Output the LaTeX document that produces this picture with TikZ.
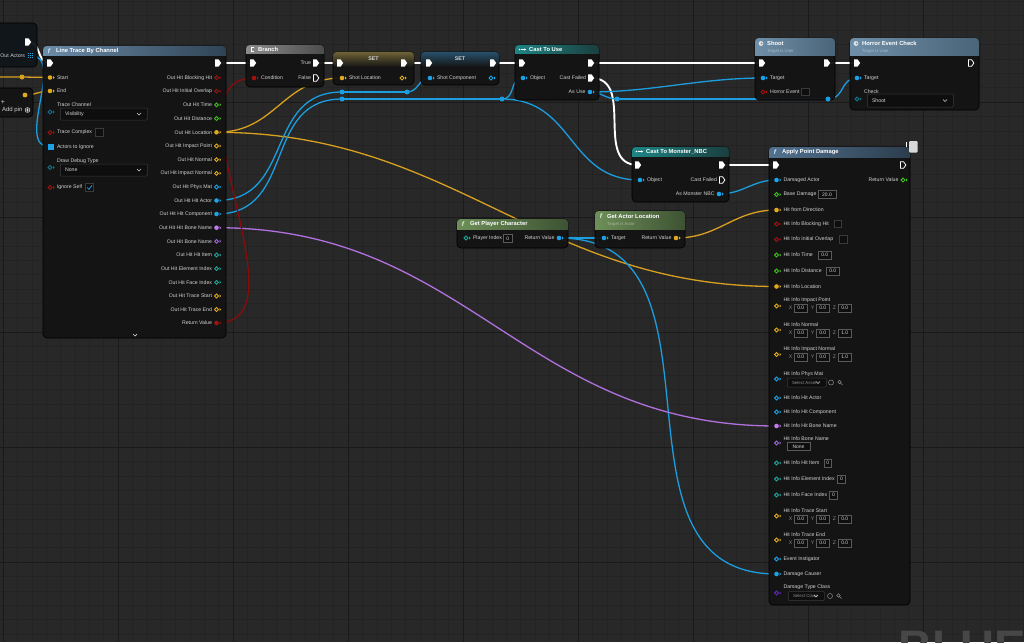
\documentclass[tikz,border=0pt]{standalone}
\usepackage{fontspec}
\setmainfont{Liberation Sans}
\usetikzlibrary{arrows.meta}
\pgfdeclarelayer{bgl}
\pgfdeclarelayer{wl}
\pgfsetlayers{bgl,wl,main}
\definecolor{bgc}{HTML}{282828}
\definecolor{gmin}{HTML}{232323}
\definecolor{gmaj}{HTML}{1A1A1A}
\definecolor{nbody}{HTML}{141414}
\definecolor{lnc}{HTML}{11161A}
\definecolor{labc}{HTML}{D2D2D2}
\definecolor{xyzc}{HTML}{8A8A8A}
\definecolor{subc}{HTML}{A9BCCB}
\definecolor{subg}{HTML}{A8B89C}
\definecolor{vbd}{HTML}{5A5A5A}
\definecolor{vbf}{HTML}{0E0E0E}
\definecolor{ddd}{HTML}{3A3A3A}
\definecolor{wmc}{HTML}{474747}
\definecolor{cyel}{HTML}{E0A91E}
\definecolor{cblu}{HTML}{1CA3E6}
\definecolor{cpur}{HTML}{C27AF0}
\definecolor{cpur2}{HTML}{9C6AD8}
\definecolor{cdpur}{HTML}{5E2AB8}
\definecolor{cred}{HTML}{A01212}
\definecolor{cgrn}{HTML}{3EBE1C}
\definecolor{ctea}{HTML}{1BA89B}
\definecolor{cenum}{HTML}{137287}
\definecolor{wyel}{HTML}{D8A020}
\definecolor{wblu}{HTML}{1A9EE0}
\definecolor{wpur}{HTML}{B070DD}
\definecolor{wred}{HTML}{8A0B0B}
\definecolor{hlt1}{HTML}{6C8CA8}
\definecolor{hlt2}{HTML}{2F4355}
\definecolor{hbr1}{HTML}{8C8C8C}
\definecolor{hbr2}{HTML}{4C4C4C}
\definecolor{hca1}{HTML}{1E8585}
\definecolor{hca2}{HTML}{1B3E3E}
\definecolor{hsh1}{HTML}{6F8FA8}
\definecolor{hsh2}{HTML}{4A6478}
\definecolor{hap1}{HTML}{52728F}
\definecolor{hap2}{HTML}{2C3D4D}
\definecolor{hgr1}{HTML}{6E8F58}
\definecolor{hgr2}{HTML}{3D5233}
\definecolor{set1}{HTML}{6E6236}
\definecolor{set2}{HTML}{28506A}
\tikzset{
 pics/dpf/.style={code={\fill[#1] (0,0) circle (2.3); \fill[#1] (3,-1.6) -- (4.7,0) -- (3,1.6) -- cycle;}},
 pics/dph/.style={code={\draw[#1,line width=0.9pt] (0,0) circle (1.9); \fill[#1] (3,-1.6) -- (4.7,0) -- (3,1.6) -- cycle;}},
 pics/exf/.style={code={\fill[#1] (-2.8,-3.6) -- (0.6,-3.6) -- (3.2,0) -- (0.6,3.6) -- (-2.8,3.6) -- cycle;}},
 pics/exh/.style={code={\draw[#1,line width=0.8pt,line join=round] (-2.6,-3.3) -- (0.5,-3.3) -- (2.9,0) -- (0.5,3.3) -- (-2.6,3.3) -- cycle;}},
}
\newcommand\pinL[6]{\coordinate (#1) at (#2,#3); \pic at (#1) {#4=#5}; \node[lbl,anchor=west] (#1-l) at ({#2+7},{#3}) {#6};}
\newcommand\pinR[6]{\coordinate (#1) at (#2,#3); \pic at (#1) {#4=#5}; \node[lbl,anchor=east] (#1-l) at ({#2-4.5},{#3}) {#6};}
\newcommand\exL[4]{\coordinate (#1) at (#2,#3); \pic at (#1) {#4=white};}
\newcommand\valbox[5]{\node[valb, minimum width=#4pt] (#1) at (#2,#3) {#5};}
\newcommand\chkbox[3]{\node[chkb] (#1) at (#2,#3) {};}
\newcommand\ddown[6]{\node[ddb, minimum width=#4pt, minimum height=#5pt] (#1) at (#2,#3) {};
 \node[lbl,anchor=west] (#1-t) at ({#2+5},{#3}) {#6};
 \draw[labc, line width=0.6pt] ({#2+#4-10},{#3-1}) -- ({#2+#4-8},{#3+1}) -- ({#2+#4-6},{#3-1});}
\newcommand\xyz[3]{\node[lbl,text=xyzc] (#1xl) at (790.5,#2) {X}; \valbox{#1x}{794}{#2}{13.5}{0.0}
 \node[lbl,text=xyzc] (#1yl) at (812.5,#2) {Y}; \valbox{#1y}{816}{#2}{13.5}{0.0}
 \node[lbl,text=xyzc] (#1zl) at (834.5,#2) {Z}; \valbox{#1z}{838}{#2}{13.5}{#3}}
\newcommand\bpnode[8]{\node[blk, minimum width=#4pt, minimum height=#5pt, anchor=north west] (#1) at (#2,#3) {};
 \shade[left color=#7, right color=#8, rounded corners=3.5pt] (#2,#3) rectangle ({#2+#4},{#3+#6});
 \shade[left color=#7, right color=#8] (#2,{#3+#6-3.5}) rectangle ({#2+#4},{#3+#6});}
\newcommand\wire[4]{\draw[#1] (#2) .. controls +(#4,0) and +(-#4,0) .. (#3);}
\begin{document}
\begin{tikzpicture}[x=1pt,y=-1pt,
 blk/.style={draw=black, line width=0.7pt, fill=nbody, fill opacity=0.96, rounded corners=4pt, inner sep=0pt, outer sep=0pt},
 lbl/.style={font=\fontsize{5.2}{6}\selectfont, text=labc, inner sep=0pt, outer sep=0pt},
 ttl/.style={font=\bfseries\fontsize{5.8}{7}\selectfont, text=white, inner sep=0pt, anchor=west},
 sub/.style={font=\fontsize{4.3}{5}\selectfont, text=#1, inner sep=0pt, anchor=west},
 fic/.style={font=\bfseries\itshape\fontsize{6.5}{7}\selectfont, text=white!85!cblu, inner sep=0pt},
 exw/.style={white, line width=1.9pt},
 dw/.style={#1, line width=1.3pt},
 valb/.style={draw=vbd, fill=vbf, line width=0.6pt, text=labc, font=\fontsize{5}{6}\selectfont, inner sep=0pt, outer sep=0pt, minimum height=8pt, anchor=west},
 chkb/.style={draw=ddd, fill=vbf, line width=0.6pt, minimum size=7.5pt, inner sep=0pt},
 ddb/.style={draw=ddd, fill=vbf, line width=0.5pt, inner sep=0pt, anchor=west, rounded corners=1pt},
 knot/.style={circle, fill=#1, minimum size=5pt, inner sep=0pt}]
\useasboundingbox (0,0) rectangle (1024,642);
\begin{pgfonlayer}{bgl}
\fill[bgc] (0,0) rectangle (1024,642);
\foreach \i in {0,...,71} \draw[gmin, line width=0.5pt] ({3+14.375*\i},0) -- ({3+14.375*\i},642);
\foreach \i in {1,...,45} \draw[gmin, line width=0.5pt] (0,{-13+14.375*\i}) -- (1024,{-13+14.375*\i});
\foreach \i in {0,...,8} \draw[gmaj, line width=1pt] ({3+115*\i},0) -- ({3+115*\i},642);
\foreach \i in {1,...,5} \draw[gmaj, line width=1pt] (0,{-13+115*\i}) -- (1024,{-13+115*\i});
\node[anchor=base west, font=\bfseries\fontsize{47}{47}\selectfont, text=wmc, inner sep=0pt] (wm) at (898,663) {BLUE};
\end{pgfonlayer}

% ---- left partial nodes
\node[blk, fill=lnc, minimum width=50pt, minimum height=44pt, anchor=north west] (ln1) at (-13,23) {};
\exL{ln1-ex}{28}{42}{exf}
\node[lbl,anchor=east] (ln1-l) at (25,55.5) {Out Actors};
\coordinate (ln1-arr) at (30.5,55.5);
\foreach \i in {-1.7,0,1.7} \foreach \j in {-1.7,0,1.7} \fill[cblu] ({30.5+\i-0.6},{55.5+\j-0.6}) rectangle ++(1.2,1.2);
\node[blk, minimum width=46pt, minimum height=29pt, anchor=north west] (ln2) at (-13,88) {};
\coordinate (ln2-o) at (25,95); \fill[cyel] (ln2-o) circle (2.4);
\node[lbl, font=\fontsize{7}{7}\selectfont] (ln2-p) at (3,102) {+};
\node[lbl, font=\fontsize{6}{7}\selectfont, anchor=east] (ln2-l) at (22.5,110) {Add pin};
\draw[labc, line width=0.6pt] (27.5,110) circle (2.4) (26.2,110) -- (28.8,110) (27.5,108.7) -- (27.5,111.3);
\node[knot=wyel] (ky) at (22,77) {};
\coordinate (yin) at (-6,77);

% ---- Line Trace By Channel
\bpnode{lt}{43}{46}{183}{292}{10}{hlt1}{hlt2}
\node[fic] (lt-f) at (49,51) {f};
\node[ttl] (lt-t) at (56,51) {Line Trace By Channel};
\exL{lt-exin}{50}{63}{exf}
\exL{lt-exout}{218}{63}{exf}
\pinL{lt-start}{50}{77.5}{dpf}{cyel}{Start}
\pinL{lt-end}{50}{91}{dpf}{cyel}{End}
\node[lbl,anchor=west] (lt-tcl) at (57,105) {Trace Channel};
\coordinate (lt-tc) at (50,112); \pic at (lt-tc) {dph=cenum};
\ddown{lt-tcd}{60}{114}{87}{12}{Visibility}
\pinL{lt-cplx}{50}{132.5}{dph}{cred}{Trace Complex}
\chkbox{lt-cplxb}{99.5}{132.5}
\coordinate (lt-ign) at (50,147);
\foreach \j in {-2,0,2} \fill[cblu] (47.5,{147+\j-0.55}) rectangle ++(6,1.1);
\node[lbl,anchor=west] (lt-ignl) at (57,147) {Actors to Ignore};
\node[lbl,anchor=west] (lt-dbgl) at (57,161) {Draw Debug Type};
\coordinate (lt-dbg) at (50,167.5); \pic at (lt-dbg) {dph=cenum};
\ddown{lt-dbgd}{60}{170}{87}{12}{None}
\pinL{lt-self}{50}{187.5}{dph}{cred}{Ignore Self}
\chkbox{lt-selfb}{89.5}{187.5}
\draw[cblu, line width=0.8pt] (87.3,187.6) -- (89,189.4) -- (92,185.4);
\pinR{lt-o1}{216.5}{77.7}{dph}{cred}{Out Hit Blocking Hit}
\pinR{lt-o2}{216.5}{91.2}{dph}{cred}{Out Hit Initial Overlap}
\pinR{lt-o3}{216.5}{104.8}{dph}{cgrn}{Out Hit Time}
\pinR{lt-o4}{216.5}{118.5}{dph}{cgrn}{Out Hit Distance}
\pinR{lt-loc}{216.5}{132.3}{dpf}{cyel}{Out Hit Location}
\pinR{lt-o6}{216.5}{146}{dph}{cyel}{Out Hit Impact Point}
\pinR{lt-o7}{216.5}{159.7}{dph}{cyel}{Out Hit Normal}
\pinR{lt-o8}{216.5}{173.3}{dph}{cyel}{Out Hit Impact Normal}
\pinR{lt-o9}{216.5}{187}{dph}{cblu}{Out Hit Phys Mat}
\pinR{lt-actor}{216.5}{200.5}{dpf}{cblu}{Out Hit Hit Actor}
\pinR{lt-comp}{216.5}{214}{dpf}{cblu}{Out Hit Hit Component}
\pinR{lt-hbn}{216.5}{227.7}{dpf}{cpur}{Out Hit Hit Bone Name}
\pinR{lt-o13}{216.5}{241.3}{dph}{cpur2}{Out Hit Bone Name}
\pinR{lt-o14}{216.5}{255}{dph}{ctea}{Out Hit Hit Item}
\pinR{lt-o15}{216.5}{268.7}{dph}{ctea}{Out Hit Element Index}
\pinR{lt-o16}{216.5}{282.3}{dph}{ctea}{Out Hit Face Index}
\pinR{lt-o17}{216.5}{296}{dph}{cyel}{Out Hit Trace Start}
\pinR{lt-o18}{216.5}{309.5}{dph}{cyel}{Out Hit Trace End}
\pinR{lt-ret}{216.5}{323}{dpf}{cred}{Return Value}
\draw[labc, line width=0.7pt] (133,334) -- (135,336) -- (137,334);

% ---- Branch
\bpnode{br}{246}{45}{78}{42}{9}{hbr1}{hbr2}
\draw[white, line width=0.8pt] (254,47.3) -- (251,47.3) -- (251,51.7) -- (254,51.7);
\node[ttl] (br-t) at (258,49.5) {Branch};
\exL{br-in}{253}{63}{exf}
\exL{br-true}{316}{63}{exf}
\node[lbl,anchor=east] (br-truel) at (311,63) {True};
\pinL{br-cond}{254}{78}{dpf}{cred}{Condition}
\exL{br-false}{316}{78}{exh}
\node[lbl,anchor=east] (br-falsel) at (311,78) {False};

% ---- SET Shot Location
\node[blk, minimum width=81pt, minimum height=33pt, anchor=north west] (s1) at (333,52) {};
\shade[top color=set1, bottom color=nbody, rounded corners=3.5pt] (333,52) rectangle (414,67);
\node[ttl, anchor=center, font=\bfseries\fontsize{5.3}{6}\selectfont, text=labc] (s1-t) at (373.5,58.5) {SET};
\exL{s1-in}{340}{63}{exf}
\exL{s1-out}{404}{63}{exf}
\pinL{s1-loc}{342}{78}{dpf}{cyel}{Shot Location}
\coordinate (s1-o) at (402,78); \pic at (s1-o) {dph=cyel};

% ---- SET Shot Component
\node[blk, minimum width=78pt, minimum height=33pt, anchor=north west] (s2) at (421,52) {};
\shade[top color=set2, bottom color=nbody, rounded corners=3.5pt] (421,52) rectangle (499,67);
\node[ttl, anchor=center, font=\bfseries\fontsize{5.3}{6}\selectfont, text=labc] (s2-t) at (460,58.5) {SET};
\exL{s2-in}{429}{63}{exf}
\exL{s2-out}{493}{63}{exf}
\pinL{s2-comp}{430}{78}{dpf}{cblu}{Shot Component}
\coordinate (s2-o) at (491,78); \pic at (s2-o) {dph=cblu};

% ---- Cast To Use
\bpnode{ctu}{515}{45}{84}{55}{9}{hca1}{hca2}
\fill[white] (519.5,49.5) circle (0.9);
\draw[white, line width=0.6pt, -{Stealth[length=2pt,width=2.2pt]}] (520.5,49.5) -- (526,49.5);
\node[ttl] (ctu-t) at (529,49.5) {Cast To Use};
\exL{ctu-in}{522}{63}{exf}
\exL{ctu-out}{591}{63}{exf}
\pinL{ctu-obj}{523}{78}{dpf}{cblu}{Object}
\exL{ctu-fail}{591}{78}{exf}
\node[lbl,anchor=east] (ctu-faill) at (586,78) {Cast Failed};
\pinR{ctu-as}{590}{92}{dpf}{cblu}{As Use}

% ---- Cast To Monster_NBC
\bpnode{ctm}{632}{147}{97}{55}{9}{hca1}{hca2}
\fill[white] (636.5,151.5) circle (0.9);
\draw[white, line width=0.6pt, -{Stealth[length=2pt,width=2.2pt]}] (637.5,151.5) -- (643,151.5);
\node[ttl] (ctm-t) at (646,151.5) {Cast To Monster\_NBC};
\exL{ctm-in}{638}{165}{exf}
\exL{ctm-out}{722}{165}{exf}
\pinL{ctm-obj}{640}{180}{dpf}{cblu}{Object}
\exL{ctm-fail}{722}{180}{exh}
\node[lbl,anchor=east] (ctm-faill) at (717,180) {Cast Failed};
\pinR{ctm-as}{719}{194}{dpf}{cblu}{As Monster NBC}

% ---- Shoot
\bpnode{sh}{755}{38}{80}{62}{18}{hsh1}{hsh2}
\fill[white!90!black] (761,43.5) circle (2.4); \fill[hsh1] (761.6,43.5) circle (1);
\node[ttl] (sh-t) at (767,43.5) {Shoot};
\node[sub=subc] (sh-s) at (767,51.5) {Target is User};
\exL{sh-in}{762}{63}{exf}
\exL{sh-out}{827}{63}{exf}
\pinL{sh-tgt}{763}{78}{dpf}{cblu}{Target}
\pinL{sh-he}{763}{92}{dph}{cred}{Horror Event}
\chkbox{sh-heb}{805.5}{92}

% ---- Horror Event Check
\bpnode{hec}{850}{38}{129}{72}{18}{hsh1}{hsh2}
\fill[white!90!black] (856,43.5) circle (2.4); \fill[hsh1] (856.6,43.5) circle (1);
\node[ttl] (hec-t) at (862,43.5) {Horror Event Check};
\node[sub=subc] (hec-s) at (862,51.5) {Target is User};
\exL{hec-in}{857}{63}{exf}
\exL{hec-out}{971}{63}{exh}
\pinL{hec-tgt}{857}{78}{dpf}{cblu}{Target}
\node[lbl,anchor=west] (hec-chkl) at (864,92) {Check};
\coordinate (hec-chk) at (857,99); \pic at (hec-chk) {dph=cenum};
\ddown{hec-dd}{867}{100.5}{86}{13}{Shoot}

% ---- Get Player Character
\bpnode{gpc}{457}{219}{111}{29}{10}{hgr1}{hgr2}
\node[fic, text=white!85!hgr1] (gpc-f) at (463,224) {f};
\node[ttl] (gpc-t) at (470,224) {Get Player Character};
\pinL{gpc-idx}{466}{238}{dph}{ctea}{Player Index}
\valbox{gpc-idxv}{503.5}{238.5}{8.5}{0}
\pinR{gpc-ret}{559}{238}{dpf}{cblu}{Return Value}

% ---- Get Actor Location
\bpnode{gal}{595}{211}{90}{37}{18}{hgr1}{hgr2}
\node[fic, text=white!85!hgr1] (gal-f) at (601,216.5) {f};
\node[ttl] (gal-t) at (607,216.5) {Get Actor Location};
\node[sub=subg] (gal-s) at (607,224.5) {Target is Actor};
\pinL{gal-tgt}{604}{238}{dpf}{cblu}{Target}
\pinR{gal-ret}{676}{238}{dpf}{cyel}{Return Value}

% ---- Apply Point Damage
\bpnode{apd}{769}{147}{141}{458}{10}{hap1}{hap2}
\node[fic] (apd-f) at (775,152) {f};
\node[ttl] (apd-t) at (782,152) {Apply Point Damage};
\fill[white!85!black, rounded corners=1pt] (909,141) rectangle (917.5,152.5);
\draw[white, line width=0.6pt] (906.5,142) -- (906.5,147);
\exL{apd-in}{776}{165}{exf}
\exL{apd-out}{903}{165}{exh}
\pinL{apd-da}{776.5}{180}{dpf}{cblu}{Damaged Actor}
\pinR{apd-rv}{903}{180}{dph}{cgrn}{Return Value}
\pinL{apd-bd}{776.5}{194.5}{dph}{cgrn}{Base Damage}
\valbox{apd-bdv}{818}{194.5}{18}{20.0}
\pinL{apd-dir}{776.5}{210}{dpf}{cyel}{Hit from Direction}
\pinL{apd-bh}{776.5}{224}{dph}{cred}{Hit Info Blocking Hit}
\chkbox{apd-bhb}{838}{224}
\pinL{apd-io}{776.5}{239.5}{dph}{cred}{Hit Info Initial Overlap}
\chkbox{apd-iob}{843.5}{239.5}
\pinL{apd-t}{776.5}{255}{dph}{cgrn}{Hit Info Time}
\valbox{apd-tv}{818}{255}{13.5}{0.0}
\pinL{apd-d}{776.5}{271}{dph}{cgrn}{Hit Info Distance}
\valbox{apd-dv}{826}{271}{13.5}{0.0}
\pinL{apd-loc}{776.5}{286.5}{dpf}{cyel}{Hit Info Location}
\node[lbl,anchor=west] (apd-ipl) at (783.5,300.5) {Hit Info Impact Point};
\coordinate (apd-ip) at (776.5,306); \pic at (apd-ip) {dph=cyel};
\xyz{ip}{308}{0.0}
\node[lbl,anchor=west] (apd-nl) at (783.5,325) {Hit Info Normal};
\coordinate (apd-n) at (776.5,330); \pic at (apd-n) {dph=cyel};
\xyz{nm}{333}{1.0}
\node[lbl,anchor=west] (apd-inl) at (783.5,349.5) {Hit Info Impact Normal};
\coordinate (apd-in2) at (776.5,354.5); \pic at (apd-in2) {dph=cyel};
\xyz{in}{357}{1.0}
\node[lbl,anchor=west] (apd-pml) at (783.5,374) {Hit Info Phys Mat};
\coordinate (apd-pm) at (776.5,379); \pic at (apd-pm) {dph=cblu};
\ddown{apd-pmd}{787}{382.5}{39}{9}{\fontsize{4.4}{5}\selectfont\color{xyzc}Select Asset}
\draw[xyzc, line width=0.5pt] (831,382.5) circle (2.5) (839.5,382) circle (1.8) (840.8,383.3) -- (842.6,385.1);
\pinL{apd-ha}{776.5}{398}{dph}{cblu}{Hit Info Hit Actor}
\pinL{apd-hc}{776.5}{412}{dph}{cblu}{Hit Info Hit Component}
\pinL{apd-hbn}{776.5}{426}{dpf}{cpur}{Hit Info Hit Bone Name}
\node[lbl,anchor=west] (apd-bnl) at (783.5,439) {Hit Info Bone Name};
\coordinate (apd-bn) at (776.5,443); \pic at (apd-bn) {dph=cpur2};
\valbox{apd-bnv}{787}{446.5}{23}{None}
\pinL{apd-hi}{776.5}{463}{dph}{ctea}{Hit Info Hit Item}
\valbox{apd-hiv}{824}{463}{7.5}{0}
\pinL{apd-ei}{776.5}{479}{dph}{ctea}{Hit Info Element Index}
\valbox{apd-eiv}{837.5}{479}{8}{0}
\pinL{apd-fi}{776.5}{495}{dph}{ctea}{Hit Info Face Index}
\valbox{apd-fiv}{829.5}{495}{8}{0}
\node[lbl,anchor=west] (apd-tsl) at (783.5,511) {Hit Info Trace Start};
\coordinate (apd-ts) at (776.5,516); \pic at (apd-ts) {dph=cyel};
\xyz{ts}{519}{0.0}
\node[lbl,anchor=west] (apd-tel) at (783.5,535) {Hit Info Trace End};
\coordinate (apd-te) at (776.5,540); \pic at (apd-te) {dph=cyel};
\xyz{te}{543}{0.0}
\pinL{apd-ev}{776.5}{559}{dph}{cblu}{Event Instigator}
\pinL{apd-dc}{776.5}{574}{dpf}{cblu}{Damage Causer}
\node[lbl,anchor=west] (apd-dtl) at (783.5,587) {Damage Type Class};
\coordinate (apd-dt) at (776.5,593); \pic at (apd-dt) {dph=cdpur};
\ddown{apd-dtd}{788}{596}{36}{9}{\fontsize{4.4}{5}\selectfont\color{xyzc}Select Class}
\draw[xyzc, line width=0.5pt] (830,596) circle (2.5) (838.5,595.5) circle (1.8) (839.8,596.8) -- (841.6,598.6);

% ---- knots
\node[knot=wblu] (k1) at (342,92) {};
\node[knot=wblu] (k2) at (407,92) {};
\node[knot=wblu] (k3) at (342,99) {};
\node[knot=wblu] (k4) at (502,99) {};
\node[knot=wblu] (k5) at (617,99) {};
\node[knot=wblu] (k6) at (828,99) {};

% ---- wires
\begin{pgfonlayer}{wl}
\wire{exw}{ln1-ex}{lt-exin}{14}
\draw[exw] (lt-exout) -- (br-in);
\draw[exw] (br-true) -- (s1-in);
\draw[exw] (s1-out) -- (s2-in);
\draw[exw] (s2-out) -- (ctu-in);
\draw[exw] (ctu-out) -- (sh-in);
\draw[exw] (sh-out) -- (hec-in);
\wire{exw}{ctu-fail}{ctm-in}{45}
\draw[exw] (ctm-out) -- (apd-in);
\draw[dw=wyel] (yin) -- (ky.center) -- (lt-start);
\wire{dw=wyel}{ln2-o}{lt-end}{9}
\wire{dw=wyel}{lt-loc}{s1-loc}{60}
\wire{dw=wyel}{lt-loc}{apd-loc}{238}
\wire{dw=wyel}{gal-ret}{apd-dir}{43}
\wire{dw=wblu}{ln1-arr}{lt-ign}{36}
\wire{dw=wblu}{lt-actor}{k1.center}{78}
\draw[dw=wblu] (k1.center) -- (k2.center);
\wire{dw=wblu}{k2.center}{s2-comp}{12}
\wire{dw=wblu}{lt-comp}{k3.center}{80}
\draw[dw=wblu] (k3.center) -- (k4.center);
\wire{dw=wblu}{k4.center}{ctu-obj}{14}
\wire{dw=wblu}{k4.center}{ctm-obj}{73}
\wire{dw=wblu}{ctu-as}{sh-tgt}{62}
\wire{dw=wblu}{ctu-as}{k5.center}{11}
\draw[dw=wblu] (k5.center) -- (k6.center);
\wire{dw=wblu}{k6.center}{hec-tgt}{17}
\wire{dw=wblu}{ctm-as}{apd-da}{24}
\draw[dw=wblu] (gpc-ret) -- (gal-tgt);
\wire{dw=wblu}{gpc-ret}{apd-dc}{184}
\wire{dw=wpur}{lt-hbn}{apd-hbn}{253}
\wire{dw=wred}{lt-ret}{br-cond}{94}
\end{pgfonlayer}
\end{tikzpicture}
\end{document}
